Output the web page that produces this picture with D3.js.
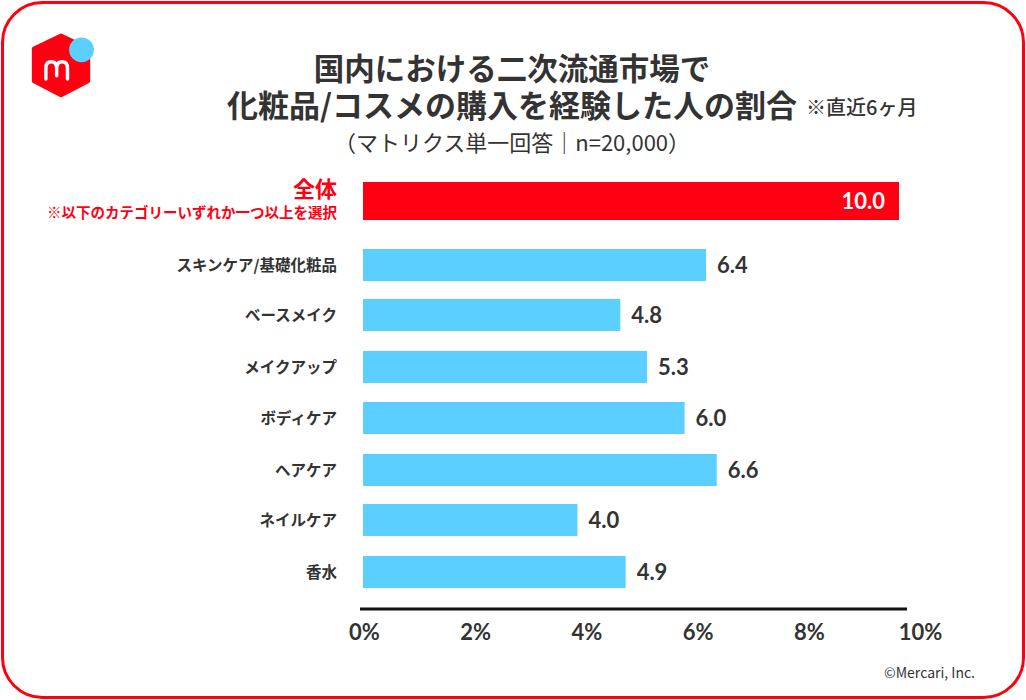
<!DOCTYPE html>
<html><head><meta charset="utf-8">
<script src="https://cdn.jsdelivr.net/npm/d3@7/dist/d3.min.js"></script>
<style>
body{margin:0;background:#fff;}
svg{display:block;font-family:"Noto Sans CJK JP","Noto Sans",sans-serif;}
</style></head>
<body><svg id="chart" width="1026" height="700"></svg>
<script>
const categories = ["全体","スキンケア/基礎化粧品","ベースメイク","メイクアップ","ボディケア","ヘアケア","ネイルケア","香水"];
const values = [10.0, 6.4, 4.8, 5.3, 6.0, 6.6, 4.0, 4.9];
const tickValues = [0, 2, 4, 6, 8, 10];
const tickLabels = ["0%","2%","4%","6%","8%","10%"];
const titleLines = ["国内における二次流通市場で","化粧品/コスメの購入を経験した人の割合"];
const titleNote = "※直近6ヶ月";
const subTitle = "（マトリクス単一回答｜n=20,000）";
const totalNote = "※以下のカテゴリーいずれか一つ以上を選択";

const RED = "#ff0013", BLUE = "#5bcfff", DARK = "#333333";
const svg = d3.select("#chart");

// frame
svg.append("rect").attr("x",2.5).attr("y",2.5).attr("width",1021).attr("height",695)
  .attr("rx",40).attr("fill","#fff").attr("stroke",RED).attr("stroke-width",3);

// logo
const logo = svg.append("g").attr("transform","translate(61,66) scale(1.08)");
logo.append("path").attr("d","M0,-28 L25,-16 L25,14 L0,27 L-25,14 L-25,-16 Z")
  .attr("fill",RED).attr("stroke",RED).attr("stroke-width",4).attr("stroke-linejoin","round");
logo.append("circle").attr("cx",19).attr("cy",-15).attr("r",11.5).attr("fill",BLUE);
logo.append("path").attr("d","M-14,12 L-14,2 Q-14,-4 -9,-4 Q-4,-4 -4,2 L-4,9 M-4,2 Q-4,-4 1,-4 Q6,-4 6,2 L6,12")
  .attr("fill","none").attr("stroke","#fff").attr("stroke-width",3.2).attr("stroke-linecap","round");

// titles
svg.append("text").attr("x",512).attr("y",80).attr("text-anchor","middle")
  .attr("font-size",30.5).attr("font-weight",700).attr("fill",DARK).text(titleLines[0]);
svg.append("text").attr("x",512).attr("y",117).attr("text-anchor","middle")
  .attr("font-size",31).attr("font-weight",700).attr("fill",DARK).text(titleLines[1]);
svg.append("text").attr("x",806).attr("y",115).attr("font-size",20).attr("font-weight",500)
  .attr("fill",DARK).text(titleNote);
svg.append("text").attr("x",512).attr("y",151).attr("text-anchor","middle")
  .attr("font-size",22).attr("font-weight",400).attr("fill",DARK).text(subTitle);

// scales
const x = d3.scaleLinear().domain([0,10]).range([363,899]);
const xTick = d3.scaleLinear().domain([0,10]).range([364,920]);
const yCenters = [201, 265, 315, 367, 418, 470, 520, 572];
const y = d3.scaleOrdinal().domain(categories).range(yCenters);

const data = categories.map((c,i)=>({c, v:values[i], i}));

// bars
svg.selectAll("rect.bar").data(data).join("rect").attr("class","bar")
  .attr("x",x(0))
  .attr("y",d=> y(d.c) - (d.i===0?19:16))
  .attr("height",d=> d.i===0?38:32)
  .attr("width",d=> x(d.v)-x(0))
  .attr("fill",d=> d.i===0?RED:BLUE);

// value labels
svg.selectAll("text.val").data(data).join("text").attr("class","val")
  .attr("x",d=> d.i===0 ? x(d.v)-14 : x(d.v)+11)
  .attr("y",d=> y(d.c)+8)
  .attr("text-anchor",d=> d.i===0?"end":"start")
  .attr("font-size",22).attr("font-weight",700)
  .attr("font-family","Lato, 'Noto Sans', sans-serif")
  .attr("fill",d=> d.i===0?"#fff":DARK)
  .text(d=> d.v.toFixed(1));

// category labels
svg.selectAll("text.cat").data(data).join("text").attr("class","cat")
  .attr("x",337)
  .attr("y",d=> d.i===0 ? y(d.c)-4 : y(d.c)+6)
  .attr("text-anchor","end")
  .attr("font-size",d=> d.i===0?22:15.5).attr("font-weight",700)
  .attr("fill",d=> d.i===0?RED:DARK)
  .text(d=> d.c);
svg.append("text").attr("x",337).attr("y",218).attr("text-anchor","end")
  .attr("font-size",14.5).attr("font-weight",700).attr("fill",RED).text(totalNote);

// axis line
svg.append("line").attr("x1",x(0)-3).attr("x2",907).attr("y1",609).attr("y2",609)
  .attr("stroke","#111").attr("stroke-width",3);

// tick labels via axis
const axis = d3.axisBottom(xTick).tickValues(tickValues).tickSize(0).tickPadding(0)
  .tickFormat((d,i)=>tickLabels[i]);
const ag = svg.append("g").attr("transform","translate(0,624)").call(axis);
ag.select(".domain").remove();
ag.selectAll("text").attr("font-size",22).attr("font-weight",700).attr("fill",DARK)
  .attr("font-family","Lato, 'Noto Sans', sans-serif");

// copyright
svg.append("text").attr("x",975).attr("y",678).attr("text-anchor","end")
  .attr("font-size",14).attr("fill",DARK).text("©Mercari, Inc.");
</script></body></html>
